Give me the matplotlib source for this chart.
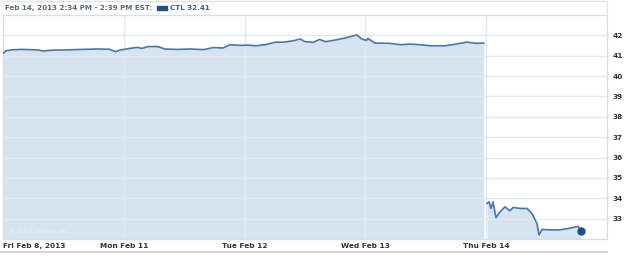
import matplotlib.pyplot as plt
from matplotlib.patches import Rectangle
from matplotlib.lines import Line2D

# time in trading days since Fri Feb 8 open (1.0 = one session), price of CTL
t_week = [0.00, 0.03, 0.08, 0.14, 0.22, 0.30, 0.33, 0.40, 0.47, 0.55, 0.65, 0.78, 0.88, 0.93, 0.97,
          1.05, 1.11, 1.15, 1.20, 1.28, 1.34, 1.44, 1.55, 1.66, 1.74, 1.82, 1.88, 1.96,
          2.03, 2.09, 2.17, 2.25, 2.33, 2.40, 2.46, 2.50, 2.57, 2.62, 2.67, 2.75, 2.83, 2.93, 2.97,
          3.01, 3.02, 3.08, 3.20, 3.25, 3.29, 3.37, 3.45, 3.54, 3.66, 3.74, 3.84, 3.91, 3.98]
p_week = [41.12, 41.25, 41.29, 41.31, 41.30, 41.28, 41.23, 41.27, 41.28, 41.29, 41.31, 41.33, 41.32, 41.20, 41.28,
          41.36, 41.41, 41.36, 41.45, 41.45, 41.33, 41.31, 41.33, 41.30, 41.40, 41.38, 41.54, 41.51,
          41.52, 41.49, 41.54, 41.66, 41.67, 41.73, 41.82, 41.69, 41.66, 41.80, 41.69, 41.77, 41.87, 42.02, 41.82,
          41.75, 41.85, 41.62, 41.61, 41.57, 41.54, 41.57, 41.54, 41.49, 41.49, 41.56, 41.67, 41.61, 41.62]
t_thu = [4.007, 4.023, 4.040, 4.056, 4.081, 4.114, 4.156, 4.197, 4.222, 4.280, 4.338, 4.379,
         4.421, 4.437, 4.462, 4.528, 4.611, 4.694, 4.760, 4.785]
p_thu = [33.75, 33.83, 33.50, 33.83, 33.05, 33.33, 33.58, 33.38, 33.55, 33.50, 33.50, 33.25,
         32.75, 32.20, 32.47, 32.45, 32.45, 32.53, 32.62, 32.41]

day_ticks = [0, 1, 2, 3, 4]
day_labels = ['Fri Feb 8, 2013', 'Mon Feb 11', 'Tue Feb 12', 'Wed Feb 13', 'Thu Feb 14']
y_ticks = list(range(33, 43))

line_c = '#4a76a8'
fill_c = '#d6e4ef'
grid_c = '#e2e9ef'
txt_c = '#333333'

fig = plt.figure(figsize=(6.25, 2.57), dpi=100)
ax = fig.add_axes([3/625, 18/257, 604/625, 224/257])
ax.set_xlim(0, 5)
ax.set_ylim(32, 43)

# price area + line (Thu drawn separately, gap after Wed close)
for t, p in [(t_week, p_week), (t_thu, p_thu)]:
    ax.fill_between(t, p, 32, color=fill_c, lw=0, zorder=1)
    ax.plot(t, p, color=line_c, lw=1.2, zorder=3)
ax.plot(t_thu[-1], p_thu[-1], 'o', color='#1f4f86', ms=5, zorder=4)

# grid over the fill
for y in y_ticks:
    ax.axhline(y, color=grid_c, lw=1, zorder=2)
for x in day_ticks[1:]:
    ax.axvline(x, color=grid_c, lw=1, zorder=2)

for s in ax.spines.values():
    s.set_color('#d8dfe6')
    s.set_linewidth(1)

ax.set_xticks(day_ticks)
ax.set_xticklabels(day_labels, fontsize=5.3, fontweight='bold', color=txt_c)
ax.get_xticklabels()[0].set_horizontalalignment('left')
ax.tick_params(axis='x', length=0, pad=3)
ax.yaxis.tick_right()
ax.set_yticks(y_ticks)
ax.set_yticklabels([str(v) for v in y_ticks], fontsize=5.3, fontweight='bold', color=txt_c)
ax.tick_params(axis='y', length=0, pad=4)

ax.text(0.01, 0.025, '\u00a9 2013 Yahoo! Inc.', transform=ax.transAxes, fontsize=4.5,
        color='#edf2f6', zorder=5)

# header
fig.text(5/625, 1 - 8/257, 'Feb 14, 2013 2:34 PM - 2:39 PM EST:', fontsize=5.1, fontweight='bold',
         color='#5b6b7c', va='center')
fig.add_artist(Rectangle((157/625, 1 - 10/257), 10/625, 4/257, transform=fig.transFigure,
                         color='#1f4f86'))
fig.text(170/625, 1 - 8/257, 'CTL 32.41', fontsize=5.1, fontweight='bold', color='#3562a0', va='center')

# frame lines around header and below labels
fig.add_artist(Line2D([0, 607/625], [1 - 1/257, 1 - 1/257], transform=fig.transFigure, color='#e4e4e4', lw=1))
fig.add_artist(Line2D([607/625, 607/625], [1 - 1/257, 1 - 15/257], transform=fig.transFigure, color='#e4e4e4', lw=1))
fig.add_artist(Line2D([0, 607/625], [1 - 252/257, 1 - 252/257], transform=fig.transFigure, color='#d4d4d4', lw=1.5))

fig.savefig('out.png', dpi=100)
